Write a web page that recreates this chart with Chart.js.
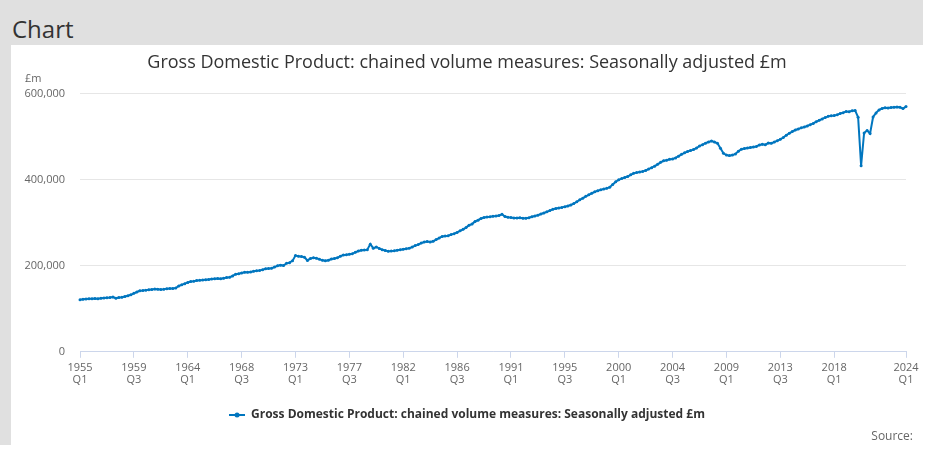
<!DOCTYPE html>
<html>
<head>
  <meta charset="UTF-8">
  <title>Chart</title>
  <script src="https://cdn.jsdelivr.net/npm/chart.js"></script>
  <style>
    body { margin: 0; background: #fff; font-family: 'Open Sans', sans-serif; }
    #frame { position: absolute; left: 0; top: 0; width: 923px; height: 445px; background: #e0e0e0; }
    #frame h2 { position: absolute; left: 12px; top: 13px; margin: 0; font-size: 24px; font-weight: 400; color: #333; line-height: 32px; }
    #panel { position: absolute; left: 11px; top: 45px; width: 912px; height: 400px; background: #fff; }
    #source { position: absolute; right: 10px; bottom: 1px; font-size: 12px; line-height: 16px; color: #666; }
  </style>
</head>
<body>
  <div id="frame">
    <h2>Chart</h2>
    <div id="panel">
      <canvas id="gdpChart" width="912" height="400"></canvas>
      <div id="source">Source:</div>
    </div>
  </div>
  <script>
    var chartTitle = 'Gross Domestic Product: chained volume measures: Seasonally adjusted £m';
    var seriesName = 'Gross Domestic Product: chained volume measures: Seasonally adjusted £m';
    var firstYear = 1955;
    var lineColour = '#0076bf';

    // only these categories get a label on the x axis
    var tickLabels = ['1955 Q1', '1959 Q3', '1964 Q1', '1968 Q3', '1973 Q1', '1977 Q3', '1982 Q1',
      '1986 Q3', '1991 Q1', '1995 Q3', '2000 Q1', '2004 Q3', '2009 Q1', '2013 Q3', '2018 Q1', '2024 Q1'];

    var yTicks = [0, 200000, 400000, 600000];

    // quarterly GDP, £m, 1955 Q1 .. 2024 Q1 (one row per year)
    var gdp = [
      120800, 121900, 122600, 123200,
      123000, 123700, 123400, 124200,
      125100, 125800, 126400, 127300,
      124600, 126200, 127000, 128600,
      130400, 132500, 135800, 138900,
      141700, 142400, 143300, 144100,
      145000, 145900, 145300, 144700,
      145600, 146800, 147200, 147000,
      148100, 152900, 155600, 158400,
      161200, 163300, 164100, 165900,
      166200, 166700, 167400, 168100,
      168900, 169700, 170400, 169600,
      171100, 172400, 173300, 176200,
      180400, 181600, 183200, 184800,
      184600, 185400, 187300, 188100,
      189200, 190500, 192800, 193600,
      194100, 196900, 199800, 201400,
      200300, 205600, 207100, 211300,
      223600, 222100, 221500, 219800,
      212400, 216700, 218600, 217200,
      215300, 212600, 211500, 212900,
      215600, 216900, 218400, 222300,
      224900, 225400, 226600, 228100,
      231200, 234300, 236100, 236700,
      237400, 250200, 240800, 243600,
      240200, 237300, 235600, 233900,
      234200, 234800, 236100, 237400,
      238300, 239700, 240900, 243300,
      246800, 249100, 252600, 255100,
      256400, 255300, 256900, 260800,
      264200, 268100, 268900, 269700,
      272300, 274600, 277400, 281200,
      284500, 288700, 294300, 296800,
      302900, 305800, 309700, 311900,
      313200, 313900, 314800, 315600,
      316700, 319600, 314500, 312800,
      311900, 311200, 310900, 311300,
      310400, 310200, 311600, 313700,
      315400, 317500, 320300, 322600,
      325300, 328200, 331100, 332800,
      334300, 335600, 337100, 338900,
      341200, 344400, 348700, 353100,
      356900, 361300, 364800, 368400,
      371700, 374100, 376300, 378200,
      379800, 382400, 388600, 395200,
      399700, 402500, 405100, 407300,
      411200, 414900, 416400, 417800,
      419200, 421400, 424600, 427900,
      431300, 435700, 440200, 443800,
      445100, 447300, 448200, 450600,
      454700, 458900, 462300, 465400,
      467600, 470100, 473400, 478200,
      481300, 484900, 487600, 489900,
      487400, 484600, 472800, 461200,
      457300, 455900, 457100, 459800,
      466200, 470900, 472400, 473500,
      474900, 475800, 477300, 480600,
      482100, 481400, 485200, 484600,
      487300, 490600, 493800, 497900,
      503200, 507800, 511700, 515400,
      517800, 520400, 522300, 524700,
      527900, 530600, 534700, 537900,
      541200, 544300, 547100, 548300,
      548900, 550600, 553800, 555700,
      558600, 557900, 560400, 560800,
      545100, 432400, 508600, 514200,
      507300, 545600, 555200, 562100,
      565300, 567200, 566800, 567900,
      568300, 568700, 568100, 565200,
      569800
    ];

    var quarters = [];
    for (var i = 0; i < gdp.length; i++) {
      quarters.push((firstYear + Math.floor(i / 4)) + ' Q' + (i % 4 + 1));
    }

    Chart.defaults.font.family = "'Open Sans', sans-serif";

    // legend marker: short line with a dot, like the series
    var legendMark = document.createElement('canvas');
    legendMark.width = 16;
    legendMark.height = 8;
    var lm = legendMark.getContext('2d');
    lm.strokeStyle = lineColour;
    lm.fillStyle = lineColour;
    lm.lineWidth = 2;
    lm.beginPath(); lm.moveTo(0, 4); lm.lineTo(16, 4); lm.stroke();
    lm.beginPath(); lm.arc(8, 4, 2.5, 0, Math.PI * 2); lm.fill();

    var unitLabel = {
      id: 'unitLabel',
      afterDraw: function(chart) {
        var c = chart.ctx;
        c.save();
        c.font = "11px 'Open Sans', sans-serif";
        c.fillStyle = '#666';
        c.textAlign = 'left';
        c.textBaseline = 'middle';
        c.fillText('£m', 14, chart.scales.y.top - 15);
        c.restore();
      }
    };

    new Chart(document.getElementById('gdpChart'), {
      type: 'line',
      data: {
        labels: quarters,
        datasets: [{
          label: seriesName,
          data: gdp,
          borderColor: lineColour,
          backgroundColor: lineColour,
          borderWidth: 2,
          pointRadius: 1.5,
          pointBorderWidth: 0,
          pointHoverRadius: 3,
          tension: 0
        }]
      },
      options: {
        responsive: false,
        animation: false,
        layout: { padding: { left: 0, right: 0, top: 0, bottom: 14 } },
        scales: {
          x: {
            afterFit: function(scale) { scale.height += 9; },
            grid: { display: true, drawOnChartArea: false, drawTicks: true, tickLength: 6, tickColor: '#ccd6eb' },
            border: { color: '#ccd6eb', width: 1 },
            ticks: {
              autoSkip: false,
              maxRotation: 0,
              minRotation: 0,
              padding: 4,
              color: '#666',
              font: { size: 11, lineHeight: 1.1 },
              callback: function(value, index) {
                var lab = quarters[index];
                return tickLabels.indexOf(lab) >= 0 ? lab.split(' ') : null;
              }
            }
          },
          y: {
            min: 0,
            max: 600000,
            afterFit: function(scale) { scale.width = 69; },
            afterBuildTicks: function(scale) {
              scale.ticks = yTicks.map(function(v) { return { value: v }; });
            },
            grid: { color: '#e6e6e6', drawTicks: false },
            border: { display: false },
            ticks: {
              padding: 15,
              color: '#666',
              font: { size: 11 },
              callback: function(v) { return v.toLocaleString('en-GB'); }
            }
          },
          // empty right-hand gutter so the title stays centred on the whole panel
          gutter: {
            position: 'right',
            afterFit: function(scale) { scale.width = 17; },
            grid: { display: false },
            border: { display: false },
            ticks: { display: false }
          }
        },
        plugins: {
          title: {
            display: true,
            text: chartTitle,
            color: '#333',
            font: { size: 18, weight: 'normal' },
            padding: { top: 7, bottom: 20 }
          },
          legend: {
            position: 'bottom',
            labels: {
              usePointStyle: true,
              pointStyleWidth: 16,
              color: '#333',
              font: { size: 12, weight: 'bold' },
              padding: 10,
              generateLabels: function(chart) {
                return Chart.defaults.plugins.legend.labels.generateLabels(chart).map(function(l) {
                  l.pointStyle = legendMark;
                  return l;
                });
              }
            }
          }
        }
      },
      plugins: [unitLabel]
    });
  </script>
</body>
</html>
